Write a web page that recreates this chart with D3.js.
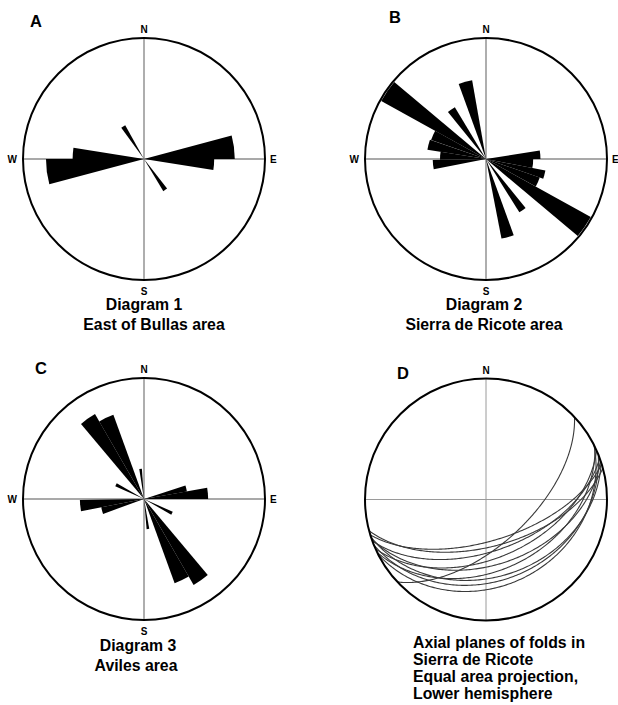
<!DOCTYPE html>
<html><head><meta charset="utf-8">
<script src="https://cdn.jsdelivr.net/npm/d3@7"></script>
<style>
body{margin:0;background:#fff}
text{font-family:"Liberation Sans",Arial,Helvetica,sans-serif;font-weight:bold;fill:#000}
</style>
</head><body>
<svg id="chart" width="618" height="705"></svg>
<script>
// ---- DATA ----
// Rose petals: [fromAzimuth, toAzimuth, length (% of net radius)]
const petals1 = [
  [75, 90, 75], [90, 99, 58],
  [255, 270, 81], [270, 279, 59],
  [324, 331, 32], [142, 149, 31]
];
const petals2 = [
  [259, 269, 44], [269, 279, 38], [279, 289, 49], [289, 299, 48], [299, 310, 99],
  [321, 329, 50], [340, 350, 66],
  [81, 90, 45], [90, 101, 39], [101, 109, 50], [109, 119, 47], [119, 130, 99],
  [141, 148, 52], [160, 169, 67]
];
const petals3 = [
  [320, 330, 81], [330, 340, 74], [351, 356, 25], [294, 300, 26],
  [250, 259, 36], [259, 269, 53],
  [72, 80, 36], [80, 90, 53],
  [114, 120, 26], [170, 175, 25],
  [140, 150, 82], [150, 160, 74]
];
// Axial planes (strike azimuth, dip in degrees, right-hand rule, dipping SE)
const planeStrikes = [73, 75, 70, 66, 71, 64, 72, 68, 63, 47];
const planeDips    = [62, 58, 55, 50, 45, 41, 36, 33, 29, 60];

const compassLabels = ["N", "E", "S", "W"];
const captions1 = ["Diagram 1", "East of Bullas area"];
const captions2 = ["Diagram 2", "Sierra de Ricote area"];
const captions3 = ["Diagram 3", "Aviles area"];
const captions4 = ["Axial planes of folds in", "Sierra de Ricote", "Equal area projection,", "Lower hemisphere"];
const panelLetters = ["A", "B", "C", "D"];

// ---- DRAW ----
const svg = d3.select("#chart");
svg.append("rect").attr("width", 618).attr("height", 705).attr("fill", "#fff");

const R = 121;
const angle = d3.scaleLinear().domain([0, 360]).range([0, 2 * Math.PI]);
const radius = d3.scaleLinear().domain([0, 100]).range([0, R]);

function net(g, opts) {
  g.append("line").attr("x1", -R).attr("x2", R).attr("y1", 0).attr("y2", 0)
    .attr("stroke", opts.gridColor).attr("stroke-width", opts.gridWidth);
  g.append("line").attr("x1", 0).attr("x2", 0).attr("y1", -R).attr("y2", R)
    .attr("stroke", opts.gridColor).attr("stroke-width", opts.gridWidth);
}
function compass(g, which) {
  const fs = 10;
  if (which.includes("N")) g.append("text").attr("x", 0).attr("y", -R - 5).attr("text-anchor", "middle").attr("font-size", fs).text(compassLabels[0]);
  if (which.includes("E")) g.append("text").attr("x", R + 5).attr("y", 4).attr("text-anchor", "start").attr("font-size", fs).text(compassLabels[1]);
  if (which.includes("S")) g.append("text").attr("x", 0).attr("y", R + 15).attr("text-anchor", "middle").attr("font-size", fs).text(compassLabels[2]);
  if (which.includes("W")) g.append("text").attr("x", -R - 6).attr("y", 4).attr("text-anchor", "end").attr("font-size", fs).text(compassLabels[3]);
}
function rose(cx, cy, petals) {
  const g = svg.append("g").attr("transform", `translate(${cx},${cy})`);
  net(g, {gridColor: "#8c8c8c", gridWidth: 1.4});
  const arc = d3.arc().innerRadius(0);
  g.selectAll("path.petal").data(petals).join("path").attr("class", "petal")
    .attr("d", d => arc({startAngle: angle(d[0]), endAngle: angle(d[1]), outerRadius: radius(d[2])}))
    .attr("fill", "#000");
  g.append("circle").attr("r", R).attr("fill", "none").attr("stroke", "#000").attr("stroke-width", 2);
  compass(g, "NESW");
  return g;
}
function captions(xs, y0, lines, step, anchor) {
  svg.append("g").selectAll("text").data(lines).join("text")
    .attr("x", (d, i) => xs[i]).attr("y", (d, i) => y0 + i * step)
    .attr("text-anchor", anchor).attr("font-size", 15.8).text(d => d);
}

rose(144, 159, petals1);
rose(486, 159, petals2);
rose(144, 499, petals3);

captions([144, 154], 310, captions1, 20, "middle");
captions([484, 484], 310, captions2, 20, "middle");
captions([138, 136], 651, captions3, 20, "middle");

// Stereonet D
(function () {
  const cx = 486, cy = 499.5;
  const g = svg.append("g").attr("transform", `translate(${cx},${cy})`);
  const xs = d3.scaleLinear().domain([-1, 1]).range([-R, R]);
  const ys = d3.scaleLinear().domain([-1, 1]).range([R, -R]);
  net(g, {gridColor: "#9a9a9a", gridWidth: 1});
  const rad = Math.PI / 180;
  const line = d3.line().x(d => xs(d[0])).y(d => ys(d[1])).curve(d3.curveLinear);
  const planes = planeStrikes.map((s, i) => ({s, d: planeDips[i]}));
  g.selectAll("path.gc").data(planes).join("path").attr("class", "gc")
    .attr("d", p => {
      const s = p.s * rad, dd = p.d * rad, dipDir = s + Math.PI / 2;
      const S = [Math.sin(s), Math.cos(s), 0];
      const D = [Math.cos(dd) * Math.sin(dipDir), Math.cos(dd) * Math.cos(dipDir), Math.sin(dd)];
      const pts = d3.range(0, 180.5, 1).map(a => {
        const c = Math.cos(a * rad), sn = Math.sin(a * rad);
        const v = [c * S[0] + sn * D[0], c * S[1] + sn * D[1], c * S[2] + sn * D[2]];
        const plunge = Math.asin(Math.max(-1, Math.min(1, v[2])));
        const trend = Math.atan2(v[0], v[1]);
        const r = Math.SQRT2 * Math.sin((Math.PI / 2 - plunge) / 2);
        return [r * Math.sin(trend), r * Math.cos(trend)];
      });
      return line(pts);
    })
    .attr("fill", "none").attr("stroke", "#3a3a3a").attr("stroke-width", 1.1);
  g.append("circle").attr("r", R).attr("fill", "none").attr("stroke", "#000").attr("stroke-width", 2);
  compass(g, "N");
})();
captions([413, 413, 413, 413], 648, captions4, 17, "start");

// Panel letters
const letterPos = [[30, 27], [389, 23], [35, 374], [397, 379]];
svg.append("g").selectAll("text").data(panelLetters).join("text")
  .attr("x", (d, i) => letterPos[i][0]).attr("y", (d, i) => letterPos[i][1])
  .attr("font-size", 16.5).text(d => d);
</script>
</body></html>
